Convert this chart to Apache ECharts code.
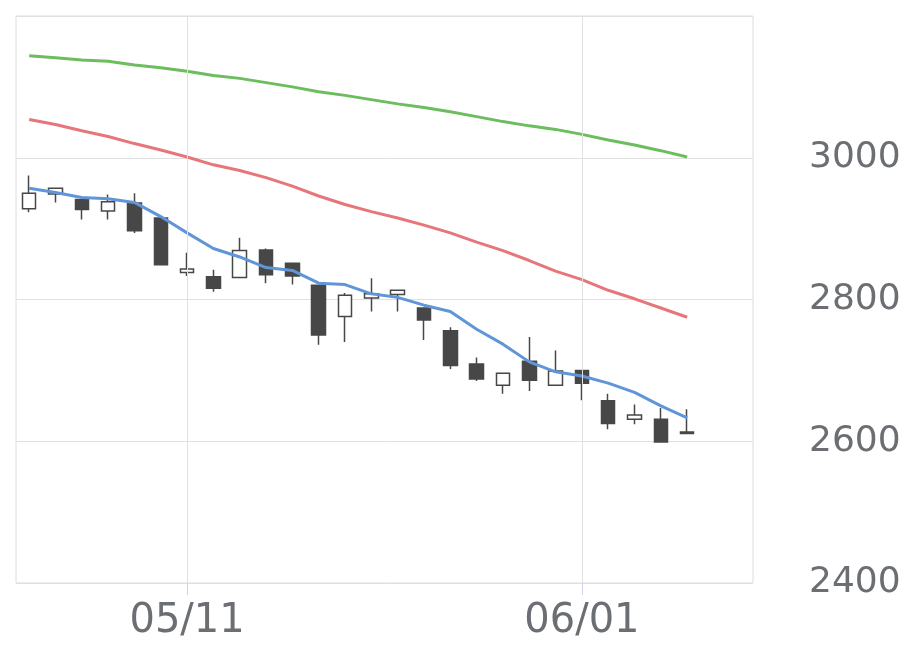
<!DOCTYPE html>
<html>
<head>
<meta charset="utf-8">
<title>chart</title>
<script src="https://cdn.jsdelivr.net/npm/echarts@6/dist/echarts.min.js"></script>
<style>
  html, body { margin: 0; padding: 0; background: #fff; }
  #ech { width: 920px; height: 669px; }
</style>
</head>
<body>
<div id="ech"></div>
<script>
// 日付 (最後の2つは空き)
var dates = ['05/01', '05/04', '05/05', '05/06', '05/07', '05/08',
    '05/11', '05/12', '05/13', '05/14', '05/15',
    '05/18', '05/19', '05/20', '05/21', '05/22',
    '05/25', '05/26', '05/27', '05/28', '05/29',
    '06/01', '06/02', '06/03', '06/04', '06/05',
    '06/08', '06/09'];

// [open, close, low, high]
var candles = [
    [2928, 2950, 2923, 2975],
    [2949, 2957, 2937, 2957],
    [2941, 2927, 2913, 2941],
    [2925, 2938, 2913, 2948],
    [2936, 2897, 2894, 2950],
    [2915, 2849, 2849, 2916],
    [2838, 2843, 2833, 2866],
    [2832, 2816, 2811, 2842],
    [2831, 2869, 2830, 2887],
    [2870, 2835, 2823, 2872],
    [2851, 2833, 2821, 2851],
    [2820, 2750, 2736, 2821],
    [2776, 2806, 2740, 2809],
    [2802, 2808, 2783, 2830],
    [2807, 2813, 2783, 2813],
    [2788, 2771, 2743, 2789],
    [2756, 2707, 2702, 2761],
    [2709, 2688, 2685, 2718],
    [2679, 2696, 2667, 2696],
    [2713, 2686, 2671, 2747],
    [2679, 2699, 2679, 2728],
    [2700, 2682, 2658, 2700],
    [2657, 2625, 2617, 2667],
    [2631, 2637, 2624, 2652],
    [2631, 2599, 2598, 2647],
    [2613, 2611, 2611, 2645]
];

var maShort = [2957, 2951, 2944, 2942, 2937, 2917, 2894, 2872, 2860, 2845, 2841, 2823, 2821,
    2808, 2803, 2792, 2783, 2758, 2737, 2712, 2698, 2692, 2682, 2669, 2650, 2633];
var maMid = [3054, 3047, 3038, 3030, 3020, 3011, 3001, 2990, 2982, 2972, 2960, 2946, 2934,
    2924, 2915, 2905, 2894, 2881, 2869, 2855, 2840, 2828, 2813, 2801, 2788, 2775];
var maLong = [3144, 3141, 3138, 3136, 3131, 3127, 3122, 3116, 3112, 3106, 3100, 3093, 3088,
    3082, 3076, 3071, 3065, 3058, 3051, 3045, 3040, 3033, 3025, 3018, 3010, 3001];

var yTicks = [2400, 2600, 2800, 3000];
var xMarks = ['05/11', '06/01'];

var labelColor = '#6b6e72';
var fontName = 'DejaVu Sans';

function showMark(idx, val) {
    return xMarks.indexOf(val) >= 0;
}

var ownChart = echarts.init(document.getElementById('ech'));
var option = {
    animation: false,
    grid: {
        left: 16, top: 16, right: 167, bottom: 86,
        show: true,
        borderColor: '#dcdcdc',
        borderWidth: 1
    },
    xAxis: {
        type: 'category',
        data: dates,
        boundaryGap: true,
        axisLine: { show: false },
        axisTick: {
            show: true,
            alignWithLabel: true,
            interval: showMark,
            length: 12,
            lineStyle: { color: '#ccd6eb' }
        },
        axisLabel: {
            interval: showMark,
            color: labelColor,
            fontSize: 40,
            fontFamily: fontName,
            margin: 19
        },
        splitLine: { show: false }
    },
    yAxis: {
        type: 'value',
        position: 'right',
        min: 2400,
        max: 3200,
        interval: 200,
        axisLine: { show: false },
        axisTick: { show: false },
        axisLabel: {
            color: labelColor,
            fontSize: 36,
            fontFamily: fontName,
            align: 'left',
            margin: 56,
            formatter: function (v) {
                return yTicks.indexOf(v) >= 0 ? String(v) : '';
            }
        },
        splitLine: { lineStyle: { color: '#e0e0e0' } }
    },
    series: [
        {
            // 縦のグリッド線
            type: 'line',
            z: 1,
            data: [],
            silent: true,
            markLine: {
                silent: true,
                symbol: 'none',
                label: { show: false },
                lineStyle: { color: '#e0e0e0', type: 'solid', width: 1 },
                data: xMarks.map(function (d) { return { xAxis: d }; })
            }
        },
        {
            type: 'candlestick',
            data: candles,
            barWidth: 14,
            itemStyle: {
                color: '#ffffff',
                color0: '#474747',
                borderColor: '#474747',
                borderColor0: '#474747',
                borderWidth: 1.5
            }
        },
        {
            type: 'line',
            data: maLong,
            symbol: 'none',
            lineStyle: { color: '#6cbd5e', width: 3 }
        },
        {
            type: 'line',
            data: maMid,
            symbol: 'none',
            lineStyle: { color: '#e6767a', width: 3 }
        },
        {
            type: 'line',
            data: maShort,
            symbol: 'none',
            lineStyle: { color: '#6096d8', width: 3 }
        }
    ]
};
ownChart.setOption(option);
</script>
</body>
</html>
